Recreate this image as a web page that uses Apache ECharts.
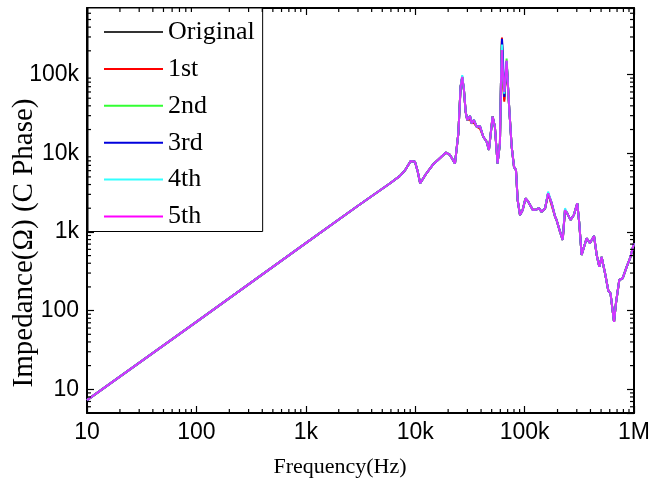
<!DOCTYPE html>
<html><head><meta charset="utf-8">
<script src="https://cdn.jsdelivr.net/npm/echarts@6/dist/echarts.min.js"></script>
<style>html,body{margin:0;padding:0;background:#fff}#c{width:651px;height:487px}</style>
</head><body><div id="c"></div>
<script>
const freqHz = [10,100,1000,3000,5900,7260,8100,9100,9950,10500,11100,12500,14700,16600,19100,20800,23100,24800,26000,26900,27900,28900,29900,31700,32800,34400,36400,39100,41900,45000,47200,51000,53500,56600,59500,60800,62100,63000,65200,68500,72500,76200,80000,83400,86400,90800,96000,102000,108000,119000,129000,135000,143000,154000,159000,164000,177000,190000,196000,211000,223000,234000,245000,263000,282000,303000,316000,332000,369000,396000,431000,456000,482000,506000,543000,582000,610000,657000,684000,734000,787000,857000,919000,1000000];

const zOriginal = [7.3,72,720,2150,4150,5150,6100,7960,7800,6000,4150,5400,7300,8500,10200,9500,7400,17900,70000,92000,63600,33700,26400,29700,24000,26400,21700,22000,16200,14000,11000,29100,21700,7400,13400,77000,270000,110000,48000,145000,35400,12100,6700,6100,2540,1640,1900,2670,2420,1900,1930,2000,1800,2000,2000,3100,2300,1560,1420,1000,790,1900,1730,1420,1640,2310,1290,510,830,720,890,510,360,480,300,180,166,72,124,245,257,360,460,720];
const z1st = [7.3,72,720,2150,4150,5150,6100,7960,7800,6000,4150,5400,7300,8500,10200,9500,7400,17900,70000,93000,63600,33700,26400,27000,24000,24500,21700,20500,16200,14000,11000,29500,21700,7400,13400,77000,295000,100000,45000,140000,35400,12100,6700,6100,2540,1640,1900,2670,2420,1900,1930,2000,1800,2000,2000,3100,2150,1560,1420,1000,790,1900,1730,1420,1640,2310,1290,510,830,720,890,510,360,480,300,180,166,72,124,245,257,360,460,720];
const z2nd = [7.3,72,720,2150,4150,5150,6100,7960,7800,6000,4150,5400,7300,8500,10200,9500,7400,17900,70000,94000,63600,33700,26400,29700,24000,26400,21700,22000,16200,14000,11000,29100,21700,7400,13400,77000,250000,120000,55000,160000,35400,12100,6700,6100,2540,1640,1900,2670,2420,1900,1930,2000,1800,2000,2000,3100,2300,1560,1420,1000,790,1900,1730,1420,1640,2310,1290,510,830,720,890,510,360,480,300,180,166,72,124,245,257,360,460,720];
const z3rd = [7.3,72,720,2150,4150,5150,6100,7960,7800,6000,4150,5400,7300,8500,10200,9500,7400,17900,70000,93000,63600,33700,26400,29700,24000,26400,21700,22000,16200,14000,11000,29100,21700,7400,13400,77000,285000,200000,52000,148000,35400,12100,6700,6100,2540,1640,1900,2670,2420,1900,1930,2000,1800,2000,2000,3100,2300,1560,1420,1000,790,1900,1730,1420,1640,2310,1290,510,830,720,890,510,360,480,300,180,166,72,124,245,257,360,460,720];
const z4th = [7.3,72,720,2150,4150,5150,6100,7960,7800,6000,4150,5400,7300,8500,10200,9500,7400,17900,70000,98000,63600,33700,26400,29700,24000,26400,21700,22000,16200,14000,11000,29100,21700,7400,13400,77000,240000,120000,57000,148000,35400,12100,6700,6100,2540,1640,1900,2670,2420,1900,1930,2000,1800,2000,2000,3250,2300,1560,1420,1000,790,2000,1730,1420,1640,2310,1290,510,830,720,890,510,360,480,300,180,166,72,124,245,257,360,460,720];
const z5th = [7.3,72,720,2150,4150,5150,6100,7960,7800,6000,4150,5400,7300,8500,10200,9500,7400,17900,70000,93000,63600,33700,26400,29700,24000,26400,21700,22000,16200,14000,11000,29100,21700,7400,13400,77000,205000,120000,60000,150000,35400,12100,6700,6100,2540,1640,1900,2670,2420,1900,1930,2000,1800,2000,2000,3100,2300,1560,1420,1000,790,1900,1730,1420,1640,2310,1290,510,830,720,890,510,360,480,300,180,166,72,124,245,257,360,460,720];

const seriesNames = ['Original','1st','2nd','3rd','4th','5th'];
const seriesValues = [zOriginal, z1st, z2nd, z3rd, z4th, z5th];
const seriesColors = ['#333333','#ff0000','#33ff33','#0000dd','#33ffff','#ff00ff'];
const seriesOpacity = [1,1,1,1,1,0.8];

const xTickValues = [10,100,1000,10000,100000,1000000];
const xTickLabels = ['10','100','1k','10k','100k','1M'];
const yTickValues = [10,100,1000,10000,100000];
const yTickLabels = ['10','100','1k','10k','100k'];
const xMin = 10, xMax = 1000000, yMin = 5, yMax = 700000;
const minorMultipliers = [2,3,4,5,6,7,8,9];

function minorTicks(lo, hi) {
  const out = [];
  for (let d = 1; d < hi; d *= 10) {
    for (const m of minorMultipliers) {
      const v = m * d;
      if (v > lo * 1.0001 && v < hi * 0.9999) out.push(v);
    }
  }
  return out;
}
const xMinor = minorTicks(xMin, xMax);
const yMinor = minorTicks(yMin, yMax);

function labelFor(values, labels) {
  return function (v) {
    const lv = Math.log10(v);
    for (let i = 0; i < values.length; i++) {
      if (Math.abs(Math.log10(values[i]) - lv) < 1e-6) return labels[i];
    }
    return '';
  };
}

const tickFont = '"Liberation Sans Narrow", "Arial Narrow", "Liberation Sans", sans-serif';
const serifFont = '"Liberation Serif", "Times New Roman", serif';

const chart = echarts.init(document.getElementById('c'), null, {renderer: 'canvas'});

const axisCommon = {
  axisLine: {show: true, onZero: false, lineStyle: {color: '#000', width: 2}},
  axisTick: {show: true, inside: true, length: 7, lineStyle: {color: '#000', width: 1.2}},
  splitLine: {show: false},
  minorTick: {show: false}
};

const lineSeries = seriesNames.map((name, k) => ({
  name: name,
  type: 'line',
  xAxisIndex: 0,
  yAxisIndex: 0,
  symbol: 'none',
  showSymbol: false,
  smooth: false,
  animation: false,
  data: freqHz.map((f, i) => [f, seriesValues[k][i]]),
  lineStyle: {color: seriesColors[k], width: 2, opacity: seriesOpacity[k]},
  itemStyle: {color: seriesColors[k]},
  z: 2 + k
}));

function xTickRender(params, api) {
  const v = api.value(0);
  const b = api.coord([v, yMin]);
  const t = api.coord([v, yMax]);
  return {type: 'group', children: [
    {type: 'line', shape: {x1: b[0], y1: b[1], x2: b[0], y2: b[1] - 4}, style: {stroke: '#000', lineWidth: 1.2}},
    {type: 'line', shape: {x1: t[0], y1: t[1], x2: t[0], y2: t[1] + 4}, style: {stroke: '#000', lineWidth: 1.2}}
  ]};
}
function yTickRender(params, api) {
  const v = api.value(1);
  const l = api.coord([xMin, v]);
  const r = api.coord([xMax, v]);
  return {type: 'group', children: [
    {type: 'line', shape: {x1: l[0], y1: l[1], x2: l[0] + 4, y2: l[1]}, style: {stroke: '#000', lineWidth: 1.2}},
    {type: 'line', shape: {x1: r[0], y1: r[1], x2: r[0] - 4, y2: r[1]}, style: {stroke: '#000', lineWidth: 1.2}}
  ]};
}

chart.setOption({
  backgroundColor: '#fff',
  animation: false,
  grid: {left: 87, right: 17, top: 8, bottom: 74, containLabel: false, outerBoundsMode: 'none'},
  legend: {
    orient: 'vertical',
    left: 88, top: 8,
    padding: [11, 8, 2, 16],
    icon: 'rect',
    itemWidth: 59, itemHeight: 2, itemGap: 10.9,
    borderColor: '#000', borderWidth: 1, backgroundColor: '#fff',
    data: seriesNames,
    textStyle: {fontFamily: serifFont, fontSize: 26, lineHeight: 26, color: '#000'},
    selectedMode: false,
    z: 20
  },
  xAxis: [
    Object.assign({}, axisCommon, {
      type: 'log', logBase: 10, min: xMin, max: xMax, position: 'bottom',
      axisLabel: {show: true, margin: 8, fontFamily: tickFont, fontSize: 23, color: '#000',
        showMinLabel: true, showMaxLabel: true, formatter: labelFor(xTickValues, xTickLabels)}
    }),
    Object.assign({}, axisCommon, {
      type: 'log', logBase: 10, min: xMin, max: xMax, position: 'top',
      axisLabel: {show: false}
    })
  ],
  yAxis: [
    Object.assign({}, axisCommon, {
      type: 'log', logBase: 10, min: yMin, max: yMax, position: 'left',
      axisLabel: {show: true, margin: 8, fontFamily: tickFont, fontSize: 23, color: '#000',
        showMinLabel: false, showMaxLabel: false, formatter: labelFor(yTickValues, yTickLabels)}
    }),
    Object.assign({}, axisCommon, {
      type: 'log', logBase: 10, min: yMin, max: yMax, position: 'right',
      axisLabel: {show: false}
    })
  ],
  graphic: [
    {type: 'text', x: 340, y: 467, style: {text: 'Frequency(Hz)', font: '22px ' + serifFont, fill: '#000', textAlign: 'center', textVerticalAlign: 'middle'}},
    {type: 'text', x: 24, y: 243, rotation: Math.PI / 2, style: {text: 'Impedance(Ω) (C Phase)', font: '29px ' + serifFont, fill: '#000', textAlign: 'center', textVerticalAlign: 'middle'}}
  ],
  series: lineSeries.concat([
    {type: 'custom', xAxisIndex: 0, yAxisIndex: 0, silent: true, animation: false, clip: false, z: 30,
     data: xMinor.map(v => [v, yMin]), renderItem: xTickRender},
    {type: 'custom', xAxisIndex: 0, yAxisIndex: 0, silent: true, animation: false, clip: false, z: 30,
     data: yMinor.map(v => [xMin, v]), renderItem: yTickRender}
  ])
});
</script></body></html>
